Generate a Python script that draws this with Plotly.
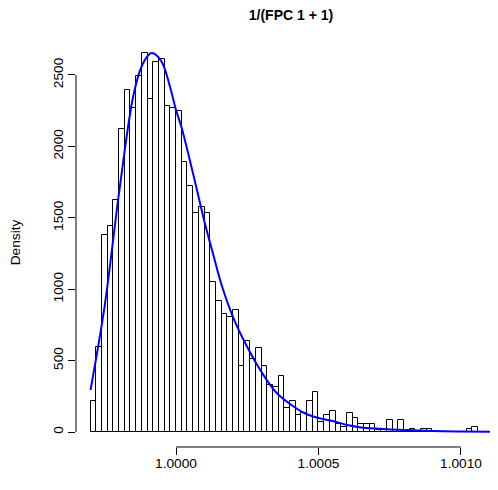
import plotly.graph_objects as go

# Histogram: bins start at 0.99970, width 0.00002
bin_start = 0.99970
bin_width = 0.00002
density = [217, 595, 1379, 1444, 1624, 2120, 2394, 2266, 2495, 2653,
           2331, 2594, 2611, 2282, 2266, 2249, 1888, 1724, 1531, 1577,
           1531, 1052, 919, 824, 807, 854, 462, 639, 509, 590,
           462, 329, 313, 394, 166, 219, 119, 135, 219, 282,
           68, 119, 149, 54, 37, 135, 100, 54, 54, 54,
           14, 14, 86, 14, 86, 14, 19, 7, 19, 19,
           0, 0, 0, 0, 0, 0, 19, 37]

# Estimated density curve
curve_x = [0.99970, 0.99975, 0.99980, 0.99985, 0.99988, 0.99991, 0.99992,
           0.99995, 0.99998, 1.00000, 1.00002, 1.00005, 1.00008, 1.00010,
           1.00013, 1.00016, 1.00020, 1.00025, 1.00030, 1.00035, 1.00040,
           1.00045, 1.00050, 1.00055, 1.00060, 1.00065, 1.00070, 1.00080,
           1.00090, 1.00100, 1.00115]
curve_y = [294, 889, 1674, 2353, 2563, 2651, 2652,
           2591, 2409, 2255, 2129, 1891, 1639, 1471,
           1247, 1029, 805, 595, 420, 280, 196,
           133, 98, 77, 49, 32, 25, 14,
           7, 4, 2]

x_ticks = [1.0000, 1.0005, 1.0010]
x_ticktext = ["1.0000", "1.0005", "1.0010"]
y_ticks = [0, 500, 1000, 1500, 2000, 2500]

centers = [bin_start + bin_width * (i + 0.5) for i in range(len(density))]

fig = go.Figure()
fig.add_trace(go.Bar(
    x=centers, y=density, width=[bin_width] * len(density),
    marker=dict(color="white", line=dict(color="black", width=1)),
    showlegend=False, hoverinfo="skip"))
fig.add_trace(go.Scatter(
    x=curve_x, y=curve_y, mode="lines", line=dict(color="#0000FF", width=2, shape="spline"),
    showlegend=False))

font = dict(family="Liberation Sans, Arial, sans-serif", size=13.7, color="black")

# page body has an 8px default margin; the figure is sized to fit the window
fig.update_layout(
    width=490, height=482,
    margin=dict(l=68, r=0, t=30, b=43),
    plot_bgcolor="white", paper_bgcolor="white",
    font=font,
    title=dict(text="<b>1/(FPC 1 + 1)</b>", x=283 / 490, xref="container", xanchor="center",
               y=1 - 7 / 482, yref="container", yanchor="middle",
               font=dict(family="Liberation Sans, Arial, sans-serif", size=14, color="black")),
    xaxis=dict(range=[0.999649, 1.00113], tickvals=x_ticks, ticktext=x_ticktext,
               ticks="outside", ticklen=7, tickcolor="black", showgrid=False,
               zeroline=False, showline=False, automargin=False, tickfont=font,
               ticklabelstandoff=-3),
    yaxis=dict(range=[-105, 2759], tickvals=y_ticks, ticks="outside", ticklen=7,
               tickcolor="black", tickangle=-90, showgrid=False, zeroline=False,
               showline=False, automargin=False, tickfont=font,
               title=dict(text="Density", standoff=26, font=font)),
    bargap=0,
)

# R-style axis lines spanning only the tick range
fig.add_shape(type="line", xref="x", yref="paper", x0=x_ticks[0], x1=x_ticks[-1], y0=0, y1=0,
              line=dict(color="black", width=1))
fig.add_shape(type="line", xref="paper", yref="y", x0=0, x1=0, y0=y_ticks[0], y1=y_ticks[-1],
              line=dict(color="black", width=1))

fig.write_html("out.html")
